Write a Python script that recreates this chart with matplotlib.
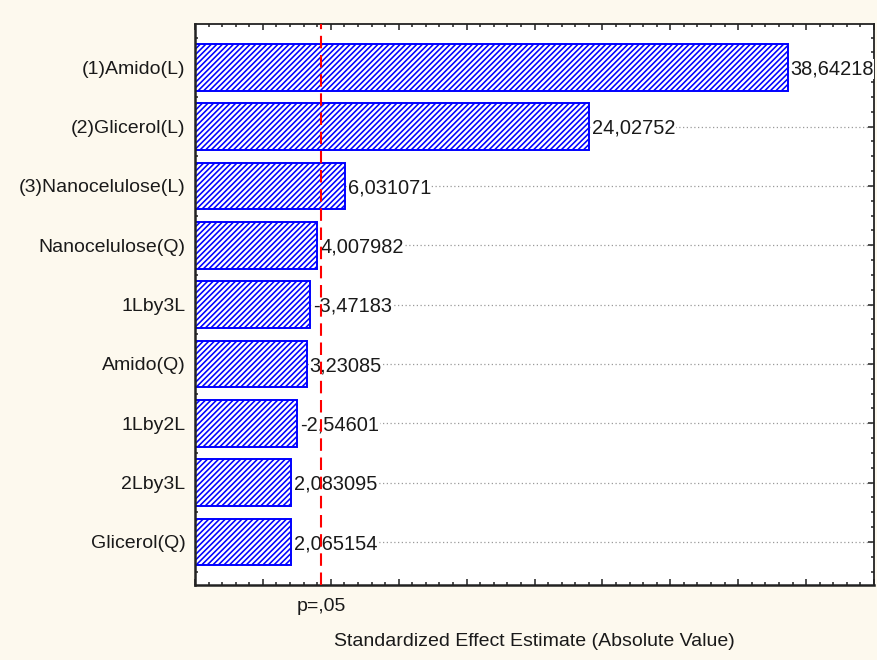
import matplotlib
matplotlib.use("Agg")
import matplotlib.pyplot as plt
from matplotlib.ticker import MultipleLocator, NullFormatter

# Pareto chart of standardized effects
effects = ["(1)Amido(L)", "(2)Glicerol(L)", "(3)Nanocelulose(L)", "Nanocelulose(Q)",
           "1Lby3L", "Amido(Q)", "1Lby2L", "2Lby3L", "Glicerol(Q)"]
effect_values = [38.64218, 24.02752, 6.031071, 4.007982, -3.47183,
                 3.23085, -2.54601, 2.083095, 2.065154]
t_critical = 4.302653          # p = .05 reference line
p_label = "p=,05"
x_label = "Standardized Effect Estimate (Absolute Value)"
x_range = (-5, 45)

plt.rcParams["font.family"] = ["Liberation Sans", "DejaVu Sans"]
plt.rcParams["hatch.color"] = "#0000ff"
plt.rcParams["hatch.linewidth"] = 1.15

bg = "#fdf9ee"
fs = 14
fig = plt.figure(figsize=(8.77, 6.6), dpi=100, facecolor=bg)
ax = fig.add_axes([195 / 877, 1 - 585 / 660, 679 / 877, 561 / 660])
ax.set_facecolor("white")

ypos = list(range(len(effects)))
x0 = x_range[0]
abs_vals = [abs(v) for v in effect_values]

# bars start at the left edge of the axis
ax.barh(ypos, [a - x0 for a in abs_vals], left=x0, height=0.79,
        facecolor="white", edgecolor="#0000ff", linewidth=1.4,
        hatch="//////", zorder=2)

# value labels
for y, v, a in zip(ypos, effect_values, abs_vals):
    txt = format(v, ".7g").replace(".", ",")
    ax.text(a + 0.2, y + 0.03, txt, ha="left", va="center", fontsize=fs + 0.4,
            color="#1a1a1a", zorder=3,
            bbox=dict(facecolor="white", edgecolor="none", pad=0.5))

# significance line
ax.axvline(t_critical, color="#ff0000", linestyle=(0, (6, 3.2)),
           linewidth=1.5, zorder=4)
ax.text(t_critical, -0.024, p_label, transform=ax.get_xaxis_transform(),
        ha="center", va="top", fontsize=fs, color="#1a1a1a")

ax.set_xlim(*x_range)
ax.set_ylim(len(effects) - 1 + 0.725, -0.73)

ax.xaxis.set_major_locator(MultipleLocator(5))
ax.xaxis.set_minor_locator(MultipleLocator(1))
ax.xaxis.set_major_formatter(NullFormatter())
ax.set_yticks(ypos)
ax.set_yticklabels(effects, fontsize=fs, color="#1a1a1a")
ax.yaxis.set_minor_locator(MultipleLocator(0.25))

ax.tick_params(axis="both", which="both", direction="in",
               top=True, right=True, color="#202020", width=1.1)
ax.tick_params(axis="both", which="major", length=4)
ax.tick_params(axis="both", which="minor", length=2)
ax.tick_params(axis="y", which="major", pad=7)

ax.yaxis.grid(True, which="major", linestyle=(0, (1, 2)),
              color="#9a9a9a", linewidth=0.9, zorder=0.5)
ax.set_axisbelow(True)

for side, sp in ax.spines.items():
    sp.set_color("#222222")
    sp.set_linewidth(1.3)
ax.spines["left"].set_linewidth(1.8)
ax.spines["bottom"].set_linewidth(1.8)

ax.set_xlabel(x_label, fontsize=fs, color="#1a1a1a", labelpad=31)

fig.savefig("out.png", dpi=100, facecolor=bg)
